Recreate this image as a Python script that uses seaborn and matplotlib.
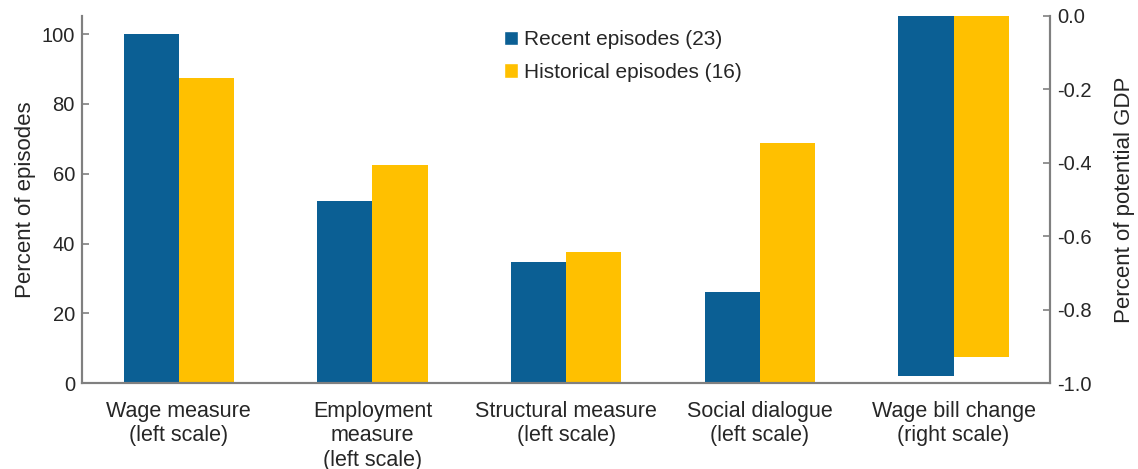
import matplotlib
matplotlib.use("Agg")
import matplotlib.pyplot as plt
from matplotlib.patches import Patch
import pandas as pd
import seaborn as sns

# Datos
categorias = ["Wage measure\n(left scale)", "Employment\nmeasure\n(left scale)",
              "Structural measure\n(left scale)", "Social dialogue\n(left scale)",
              "Wage bill change\n(right scale)"]
series = ["Recent episodes (23)", "Historical episodes (16)"]
recientes = [100.0, 52.2, 34.8, 26.1]       # porcentaje de episodios
historicos = [87.5, 62.5, 37.5, 68.75]
masa_salarial = [-0.98, -0.93]              # % del PIB potencial (reciente, histórico)

azul = "#0b5f94"
amarillo = "#ffc000"
gris = "#808080"

izq = pd.DataFrame({
    "categoria": categorias[:4] * 2,
    "serie": [series[0]] * 4 + [series[1]] * 4,
    "valor": recientes + historicos,
})
der = pd.DataFrame({
    "categoria": [categorias[4]] * 2,
    "serie": series,
    "valor": masa_salarial,
})

sns.set_style("white")
plt.rcParams["font.family"] = ["Liberation Sans", "DejaVu Sans"]

fig, ax = plt.subplots(figsize=(11.38, 4.69), dpi=100)
fig.subplots_adjust(left=0.072, right=0.923, top=0.966, bottom=0.183)
ax2 = ax.twinx()

paleta = {series[0]: azul, series[1]: amarillo}
sns.barplot(data=izq, x="categoria", y="valor", hue="serie", order=categorias,
            hue_order=series, palette=paleta, width=0.57, gap=0, saturation=1,
            linewidth=0, ax=ax, legend=False)
sns.barplot(data=der, x="categoria", y="valor", hue="serie", order=categorias,
            hue_order=series, palette=paleta, width=0.57, gap=0, saturation=1,
            linewidth=0, ax=ax2, legend=False)

ax.set_xlim(-0.5, 4.5)
ax.set_ylim(0, 105.2)
ax.set_yticks([0, 20, 40, 60, 80, 100])
ax2.set_ylim(-1.0, 0.0)
ax2.set_yticks([-1.0, -0.8, -0.6, -0.4, -0.2, 0.0])
ax2.set_yticklabels([f"{v:.1f}" for v in [-1.0, -0.8, -0.6, -0.4, -0.2, 0.0]])

ax.set_xlabel("")
ax2.set_xlabel("")
ax.set_ylabel("Percent of episodes", fontsize=16, labelpad=4)
ax2.set_ylabel("Percent of potential GDP", fontsize=16, labelpad=16)

for a in (ax, ax2):
    for s in a.spines.values():
        s.set_color(gris)
        s.set_linewidth(1.5)
    a.spines["top"].set_visible(False)
    a.tick_params(axis="y", direction="in", length=5, width=1.2, color=gris,
                  labelsize=14.5, pad=5)
ax.tick_params(axis="x", length=0, labelsize=15.5, pad=13)
ax2.tick_params(axis="x", length=0)

handles = [Patch(facecolor=azul), Patch(facecolor=amarillo)]
fig.legend(handles, series, loc="upper left", bbox_to_anchor=(0.426, 0.975),
           frameon=False, fontsize=15, handlelength=0.7, handleheight=0.7,
           handletextpad=0.3, labelspacing=0.65)

plt.savefig("out.png", dpi=100)
